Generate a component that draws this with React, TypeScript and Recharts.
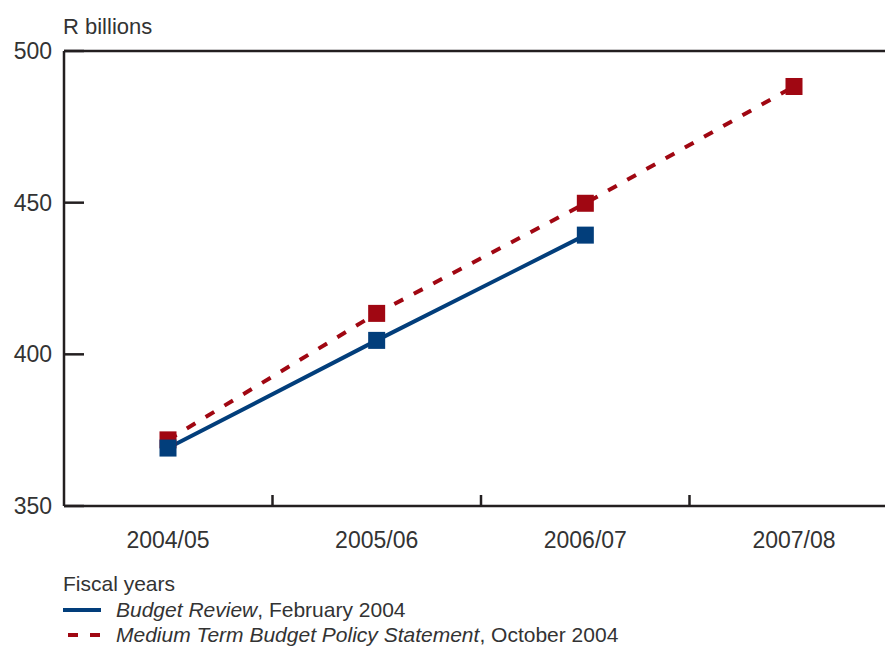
import React from 'react';
import { LineChart, Line, XAxis, YAxis, ReferenceLine } from 'recharts';

const years = ['2004/05', '2005/06', '2006/07', '2007/08'];
const budgetReview: (number | null)[] = [369.1, 404.6, 439.3, null];
const mtbps: number[] = [371.8, 413.5, 449.8, 488.3];
const yTicks = [350, 400, 450, 500];
const boundaryTicks = [1, 2, 3];

const data = years.map((year, i) => ({ year, slot: i + 0.5, br: budgetReview[i], mt: mtbps[i] }));

const FONT = '"Liberation Sans", Arial, Helvetica, sans-serif';
const TEXT = '#333333';
const AXIS = '#231f20';
const BLUE = '#023e7b';
const RED = '#a00712';

const SquareDot = (color: string) => (props: any) => {
  const { cx, cy, index } = props;
  if (cx == null || cy == null || props.value == null) return <g key={index} />;
  const s = 17;
  return <rect key={index} x={cx - s / 2} y={cy - s / 2} width={s} height={s} fill={color} />;
};

export default function App() {
  return (
    <div style={{ position: 'absolute', left: 0, top: 0, width: 885, height: 646, overflow: 'hidden', background: '#fff', fontFamily: FONT }}>
      <div style={{ position: 'absolute', left: 63, top: 14, fontSize: 22, color: TEXT, lineHeight: '26px' }}>R billions</div>
      <LineChart width={920} height={646} data={data} margin={{ top: 51, right: 22, bottom: 138, left: 0 }}>
        <XAxis
          dataKey="year"
          padding={{ left: 104, right: 104 }}
          axisLine={{ stroke: AXIS, strokeWidth: 2.5 }}
          tickLine={false}
          tickSize={0}
          tickMargin={26}
          tick={{ fill: TEXT, fontSize: 23, fontFamily: FONT }}
          height={1}
        />
        <XAxis
          xAxisId="bounds"
          dataKey="slot"
          type="number"
          domain={[0, 4]}
          ticks={boundaryTicks}
          allowDataOverflow
          axisLine={false}
          tickLine={{ stroke: AXIS, strokeWidth: 2.5 }}
          tickSize={-12}
          tickFormatter={() => ''}
          height={1}
        />
        <YAxis
          type="number"
          domain={[350, 500]}
          ticks={yTicks}
          width={64}
          axisLine={{ stroke: AXIS, strokeWidth: 2.5 }}
          tickLine={{ stroke: AXIS, strokeWidth: 2.5 }}
          tickSize={-20}
          tickMargin={32}
          tick={{ fill: TEXT, fontSize: 23, fontFamily: FONT }}
        />
        <ReferenceLine y={500} stroke={AXIS} strokeWidth={2.5} />
        <Line
          dataKey="mt"
          stroke={RED}
          strokeWidth={4}
          strokeDasharray="10 12"
          dot={SquareDot(RED)}
          activeDot={false}
          isAnimationActive={false}
        />
        <Line
          dataKey="br"
          stroke={BLUE}
          strokeWidth={4}
          dot={SquareDot(BLUE)}
          activeDot={false}
          isAnimationActive={false}
        />
      </LineChart>
      <div style={{ position: 'absolute', left: 63, top: 571, fontSize: 21, color: TEXT, lineHeight: '25.5px' }}>
        <div>Fiscal years</div>
        <div style={{ display: 'flex', alignItems: 'center' }}>
          <svg width={53} height={25} style={{ display: 'block' }}>
            <line x1={0} y1={13} x2={38} y2={13} stroke={BLUE} strokeWidth={4} />
          </svg>
          <span><i>Budget Review</i>, February 2004</span>
        </div>
        <div style={{ display: 'flex', alignItems: 'center' }}>
          <svg width={53} height={25} style={{ display: 'block' }}>
            <line x1={5} y1={13} x2={38} y2={13} stroke={RED} strokeWidth={4} strokeDasharray="10 12" />
          </svg>
          <span><i>Medium Term Budget Policy Statement</i>, October 2004</span>
        </div>
      </div>
    </div>
  );
}
